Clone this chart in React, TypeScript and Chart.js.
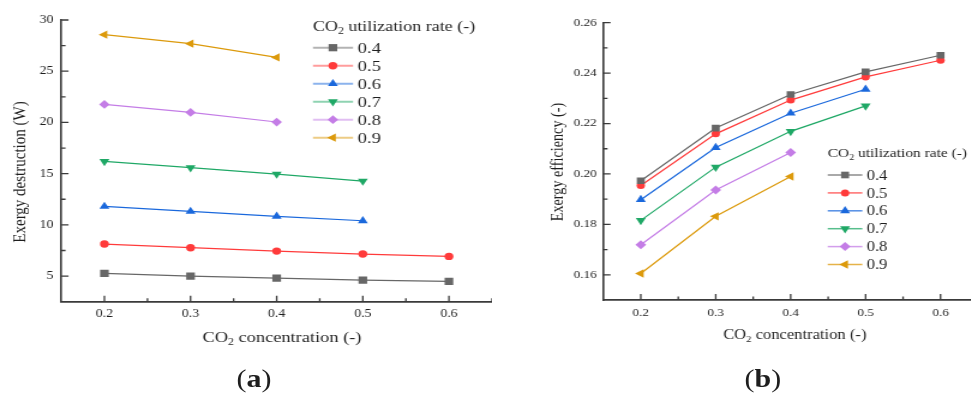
import React, { useEffect, useRef } from 'react';
import { Chart, registerables } from 'chart.js';

Chart.register(...registerables);

// CO2 concentration on the horizontal axis of both panels
const concentrations = [0.2, 0.3, 0.4, 0.5, 0.6];
// CO2 utilization rate of each series
const utilizationRates = ['0.4', '0.5', '0.6', '0.7', '0.8', '0.9'];

// (a) exergy destruction, W
const destruction04 = [5.26, 5.0, 4.8, 4.61, 4.48];
const destruction05 = [8.13, 7.77, 7.44, 7.15, 6.92];
const destruction06 = [11.8, 11.31, 10.83, 10.4];
const destruction07 = [16.2, 15.58, 14.96, 14.28];
const destruction08 = [21.76, 20.98, 20.04];
const destruction09 = [28.57, 27.69, 26.35];

// (b) exergy efficiency, -
const efficiency04 = [0.1973, 0.2182, 0.2315, 0.2405, 0.2471];
const efficiency05 = [0.1954, 0.2159, 0.2293, 0.2385, 0.2451];
const efficiency06 = [0.1898, 0.2105, 0.2241, 0.2336];
const efficiency07 = [0.1816, 0.2027, 0.2169, 0.227];
const efficiency08 = [0.1719, 0.1936, 0.2085];
const efficiency09 = [0.1605, 0.1832, 0.199];

const concentrationTicks = [0.2, 0.3, 0.4, 0.5, 0.6];
const concentrationMinorTicks = [0.25, 0.35, 0.45, 0.55, 0.65];
const destructionTicks = [5, 10, 15, 20, 25, 30];
const destructionMinorTicks = [7.5, 12.5, 17.5, 22.5, 27.5];
const efficiencyTicks = [0.16, 0.18, 0.2, 0.22, 0.24, 0.26];
const efficiencyMinorTicks = [0.17, 0.19, 0.21, 0.23, 0.25];

const SERIES_COLORS = ['#676767', '#ff3b3b', '#1a68dc', '#1fa866', '#c47de6', '#dc9a0c'];
type MarkerStyle = 'rect' | 'circle' | 'triangle' | 'rectRot';
const SERIES_MARKERS: { style: MarkerStyle; rotation: number }[] = [
  { style: 'rect', rotation: 0 },
  { style: 'circle', rotation: 0 },
  { style: 'triangle', rotation: 0 },
  { style: 'triangle', rotation: 180 },
  { style: 'rectRot', rotation: 0 },
  { style: 'triangle', rotation: -90 },
];

const SERIF = '"Liberation Serif", "Times New Roman", serif';
const AXIS_COLOR = '#3a3a3a';
const TEXT_COLOR = '#1e1e1e';
// whole figure is laid out narrower and widened with a horizontal stretch
const STRETCH = 1.2;

interface LegendSpec {
  left: number;
  titleBaseline: number;
  firstRow: number;
  rowGap: number;
  lineEnd: number;
  markerX: number;
  labelX: number;
  titleSize: number;
  labelSize: number;
  lineAlpha: number;
  lineWidth: number;
}

interface PanelSpec {
  width: number;
  height: number;
  chartLeft: number;
  chartTop: number;
  chartBottom: number;
  yMin: number;
  yMax: number;
  yTicks: number[];
  yMinor: number[];
  yDecimals: number;
  series: number[][];
  radii: Record<MarkerStyle, number>;
  tickSize: number;
  yTickPad: number;
  xTickPad: number;
  yTitle: string;
  yTitleX: number;
  yTitleY: number;
  yTitleSize: number;
  xTitleX: number;
  xTitleBaseline: number;
  xTitleSize: number;
  legend: LegendSpec;
}

function hexToRgba(hex: string, a: number) {
  const n = parseInt(hex.slice(1), 16);
  return `rgba(${(n >> 16) & 255}, ${(n >> 8) & 255}, ${n & 255}, ${a})`;
}

function markerPath(ctx: CanvasRenderingContext2D, style: MarkerStyle, rotation: number, r: number, x: number, y: number) {
  ctx.beginPath();
  if (style === 'circle') {
    ctx.arc(x, y, r, 0, Math.PI * 2);
  } else if (style === 'rect') {
    const s = r * Math.SQRT1_2;
    ctx.rect(x - s, y - s, 2 * s, 2 * s);
  } else if (style === 'rectRot') {
    ctx.moveTo(x, y - r);
    ctx.lineTo(x + r, y);
    ctx.lineTo(x, y + r);
    ctx.lineTo(x - r, y);
  } else {
    let rad = (rotation * Math.PI) / 180;
    ctx.moveTo(x + Math.sin(rad) * r, y - Math.cos(rad) * r);
    rad += (2 * Math.PI) / 3;
    ctx.lineTo(x + Math.sin(rad) * r, y - Math.cos(rad) * r);
    rad += (2 * Math.PI) / 3;
    ctx.lineTo(x + Math.sin(rad) * r, y - Math.cos(rad) * r);
  }
  ctx.closePath();
}

// draws text with a lowered, smaller "2" for CO2
function drawRich(
  ctx: CanvasRenderingContext2D,
  parts: { text: string; sub?: boolean }[],
  x: number,
  baseline: number,
  size: number,
  align: 'left' | 'center'
) {
  const base = `${size}px ${SERIF}`;
  const small = `${size * 0.64}px ${SERIF}`;
  const widths = parts.map((p) => {
    ctx.font = p.sub ? small : base;
    return ctx.measureText(p.text).width;
  });
  const total = widths.reduce((a, b) => a + b, 0);
  let cx = align === 'center' ? x - total / 2 : x;
  ctx.textAlign = 'left';
  ctx.textBaseline = 'alphabetic';
  ctx.fillStyle = TEXT_COLOR;
  parts.forEach((p, i) => {
    ctx.font = p.sub ? small : base;
    ctx.fillText(p.text, cx, p.sub ? baseline + size * 0.24 : baseline);
    cx += widths[i];
  });
}

function buildChart(canvas: HTMLCanvasElement, spec: PanelSpec) {
  const datasets = spec.series.map((vals, i) => ({
    label: utilizationRates[i],
    data: vals.map((v, j) => ({ x: concentrations[j], y: v })),
    borderColor: SERIES_COLORS[i],
    backgroundColor: SERIES_COLORS[i],
    borderWidth: 1.2,
    pointStyle: SERIES_MARKERS[i].style,
    pointRotation: SERIES_MARKERS[i].rotation,
    pointRadius: spec.radii[SERIES_MARKERS[i].style],
    pointBorderWidth: 0,
    pointBackgroundColor: SERIES_COLORS[i],
    tension: 0,
    fill: false,
  }));

  const decorations = {
    id: 'panelDecorations',
    afterDraw(chart: any) {
      const ctx: CanvasRenderingContext2D = chart.ctx;
      const { left, bottom } = chart.chartArea;
      const xs = chart.scales.x;
      const ys = chart.scales.y;
      ctx.save();

      // tick marks pointing into the plot
      ctx.strokeStyle = AXIS_COLOR;
      ctx.lineWidth = 1.3;
      ctx.beginPath();
      concentrationTicks.forEach((v) => {
        const px = xs.getPixelForValue(v);
        ctx.moveTo(px, bottom);
        ctx.lineTo(px, bottom - 6);
      });
      concentrationMinorTicks.forEach((v) => {
        const px = xs.getPixelForValue(v);
        ctx.moveTo(px, bottom);
        ctx.lineTo(px, bottom - 3.5);
      });
      spec.yTicks.forEach((v) => {
        const py = ys.getPixelForValue(v);
        ctx.moveTo(left, py);
        ctx.lineTo(left + 6, py);
      });
      spec.yMinor.forEach((v) => {
        const py = ys.getPixelForValue(v);
        ctx.moveTo(left, py);
        ctx.lineTo(left + 3.5, py);
      });
      ctx.stroke();

      // axis titles
      drawRich(
        ctx,
        [{ text: 'CO' }, { text: '2', sub: true }, { text: ' concentration (-)' }],
        spec.xTitleX,
        spec.xTitleBaseline,
        spec.xTitleSize,
        'center'
      );
      ctx.save();
      ctx.translate(spec.yTitleX, spec.yTitleY);
      ctx.rotate(-Math.PI / 2);
      ctx.font = `${spec.yTitleSize}px ${SERIF}`;
      ctx.fillStyle = TEXT_COLOR;
      ctx.textAlign = 'center';
      ctx.textBaseline = 'middle';
      ctx.fillText(spec.yTitle, 0, 0);
      ctx.restore();

      // legend
      const lg = spec.legend;
      drawRich(
        ctx,
        [{ text: 'CO' }, { text: '2', sub: true }, { text: ' utilization rate (-)' }],
        lg.left,
        lg.titleBaseline,
        lg.titleSize,
        'left'
      );
      utilizationRates.forEach((label, i) => {
        const y = lg.firstRow + i * lg.rowGap;
        ctx.strokeStyle = hexToRgba(SERIES_COLORS[i], lg.lineAlpha);
        ctx.lineWidth = lg.lineWidth;
        ctx.beginPath();
        ctx.moveTo(lg.left, y);
        ctx.lineTo(lg.lineEnd, y);
        ctx.stroke();
        const m = SERIES_MARKERS[i];
        markerPath(ctx, m.style, m.rotation, spec.radii[m.style], lg.markerX, y);
        ctx.fillStyle = SERIES_COLORS[i];
        ctx.fill();
        ctx.font = `${lg.labelSize}px ${SERIF}`;
        ctx.fillStyle = TEXT_COLOR;
        ctx.textAlign = 'left';
        ctx.textBaseline = 'alphabetic';
        ctx.fillText(label, lg.labelX, y + lg.labelSize * 0.34);
      });
      ctx.restore();
    },
  };

  const chartBottom = spec.chartBottom;
  return new Chart(canvas, {
    type: 'line',
    data: { datasets },
    options: {
      responsive: false,
      maintainAspectRatio: false,
      animation: false,
      devicePixelRatio: 1,
      layout: { autoPadding: false, padding: { top: spec.chartTop, left: 0, right: 0, bottom: 0 } },
      plugins: { legend: { display: false }, tooltip: { enabled: false } },
      scales: {
        x: {
          type: 'linear',
          min: 0.15,
          max: 0.65,
          afterBuildTicks: (scale: any) => {
            scale.ticks = concentrationTicks.map((v) => ({ value: v }));
          },
          afterFit: (scale: any) => {
            scale.height = spec.height - chartBottom;
          },
          grid: { display: false, drawTicks: false },
          border: { display: true, color: AXIS_COLOR, width: 1.8 },
          ticks: {
            autoSkip: false,
            maxRotation: 0,
            padding: spec.xTickPad,
            color: TEXT_COLOR,
            font: { family: SERIF, size: spec.tickSize },
            callback: (v: any) => Number(v).toFixed(1),
          },
        },
        y: {
          type: 'linear',
          min: spec.yMin,
          max: spec.yMax,
          afterBuildTicks: (scale: any) => {
            scale.ticks = spec.yTicks.map((v) => ({ value: v }));
          },
          afterFit: (scale: any) => {
            scale.width = spec.chartLeft;
          },
          grid: { display: false, drawTicks: false },
          border: { display: true, color: AXIS_COLOR, width: 1.6 },
          ticks: {
            padding: spec.yTickPad,
            color: TEXT_COLOR,
            font: { family: SERIF, size: spec.tickSize },
            callback: (v: any) => Number(v).toFixed(spec.yDecimals),
          },
        },
      },
    },
    plugins: [decorations],
  } as any);
}

const destructionPanel: PanelSpec = {
  width: 410,
  height: 394,
  chartLeft: 51.1,
  chartTop: 20,
  chartBottom: 301.7,
  yMin: 2.5,
  yMax: 30,
  yTicks: destructionTicks,
  yMinor: destructionMinorTicks,
  yDecimals: 0,
  series: [destruction04, destruction05, destruction06, destruction07, destruction08, destruction09],
  radii: { rect: 5.1, circle: 3.7, triangle: 4.8, rectRot: 4.4 },
  tickSize: 11.5,
  yTickPad: 6.5,
  xTickPad: 5.5,
  yTitle: 'Exergy destruction (W)',
  yTitleX: 16.9,
  yTitleY: 172,
  yTitleSize: 15,
  xTitleX: 235,
  xTitleBaseline: 341.5,
  xTitleSize: 15.3,
  legend: {
    left: 260.8,
    titleBaseline: 30.7,
    firstRow: 47.7,
    rowGap: 18,
    lineEnd: 294.2,
    markerX: 277.4,
    labelX: 298,
    titleSize: 15,
    labelSize: 15.5,
    lineAlpha: 0.5,
    lineWidth: 2,
  },
};

const efficiencyPanel: PanelSpec = {
  width: 400,
  height: 394,
  chartLeft: 87.75,
  chartTop: 22.7,
  chartBottom: 300,
  yMin: 0.15,
  yMax: 0.26,
  yTicks: efficiencyTicks,
  yMinor: efficiencyMinorTicks,
  yDecimals: 2,
  series: [efficiency04, efficiency05, efficiency06, efficiency07, efficiency08, efficiency09],
  radii: { rect: 4.7, circle: 3.5, triangle: 4.8, rectRot: 4.5 },
  tickSize: 11,
  yTickPad: 5.5,
  xTickPad: 6.5,
  yTitle: 'Exergy efficiency (-)',
  yTitleX: 50.25,
  yTitleY: 162,
  yTitleSize: 14.2,
  xTitleX: 247.3,
  xTitleBaseline: 339,
  xTitleSize: 13.8,
  legend: {
    left: 274.75,
    titleBaseline: 157.3,
    firstRow: 175,
    rowGap: 17.9,
    lineEnd: 303.6,
    markerX: 289.2,
    labelX: 307.25,
    titleSize: 12.9,
    labelSize: 13.8,
    lineAlpha: 0.75,
    lineWidth: 1.5,
  },
};

function Panel({ spec, left }: { spec: PanelSpec; left: number }) {
  const ref = useRef<HTMLCanvasElement>(null);
  useEffect(() => {
    if (!ref.current) return;
    const chart = buildChart(ref.current, spec);
    return () => chart.destroy();
  }, [spec]);
  return (
    <canvas
      ref={ref}
      width={spec.width}
      height={spec.height}
      style={{ position: 'absolute', left, top: 0, width: spec.width, height: spec.height }}
    />
  );
}

function PanelLabel({ letter, center }: { letter: string; center: number }) {
  return (
    <div
      style={{
        position: 'absolute',
        left: center - 50,
        top: 364,
        width: 100,
        textAlign: 'center',
        fontFamily: SERIF,
        fontSize: 25,
        lineHeight: '30px',
        color: TEXT_COLOR,
      }}
    >
      (<b>{letter}</b>)
    </div>
  );
}

export default function App() {
  return (
    <div
      style={{
        position: 'fixed',
        left: 0,
        top: 0,
        width: 971,
        height: 394,
        overflow: 'hidden',
        background: '#ffffff',
      }}
    >
      <div
        style={{
          position: 'absolute',
          left: 0,
          top: 0,
          width: 971 / STRETCH,
          height: 394,
          transform: `scaleX(${STRETCH})`,
          transformOrigin: '0 0',
        }}
      >
        <Panel spec={destructionPanel} left={0} />
        <Panel spec={efficiencyPanel} left={415} />
        <PanelLabel letter="a" center={211.7} />
        <PanelLabel letter="b" center={635.8} />
      </div>
    </div>
  );
}
